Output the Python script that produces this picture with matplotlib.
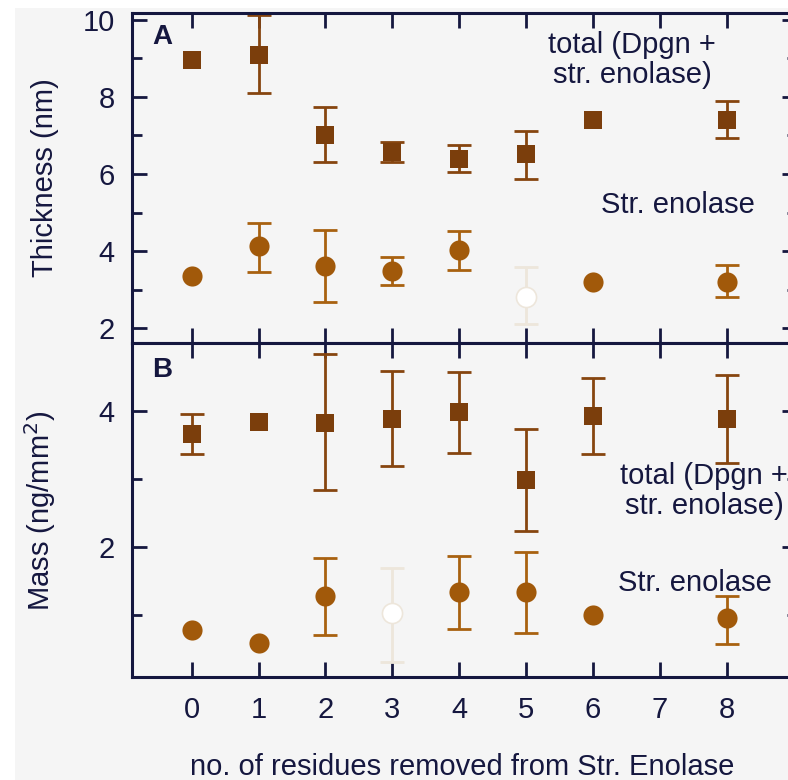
import numpy as np
import matplotlib
matplotlib.use("Agg")
import matplotlib.pyplot as plt
from matplotlib.ticker import MultipleLocator

plt.rcParams['font.family'] = ['Liberation Sans', 'DejaVu Sans']

# residues removed
residues = [0, 1, 2, 3, 4, 5, 6, 8]
x_ticks = [0, 1, 2, 3, 4, 5, 6, 7, 8]

# A: thickness (nm)
thick_total = [8.96, 9.08, 7.02, 6.56, 6.38, 6.51, 7.41, 7.41]
thick_total_hi = [None, 10.12, 7.74, 6.84, 6.74, 7.10, None, 7.90]
thick_total_lo = [None, 8.10, 6.30, 6.30, 6.04, 5.87, None, 6.92]
thick_enol = [3.36, 4.13, 3.62, 3.49, 4.03, 2.82, 3.21, 3.21]
thick_enol_hi = [None, 4.73, 4.55, 3.86, 4.52, 3.59, None, 3.63]
thick_enol_lo = [None, 3.47, 2.69, 3.13, 3.50, 2.10, None, 2.82]
thick_enol_open = [5]

# B: mass (ng/mm2)
mass_total = [3.66, 3.84, 3.82, 3.88, 3.99, 2.99, 3.93, 3.88]
mass_total_hi = [3.96, None, 4.84, 4.59, 4.57, 3.74, 4.49, 4.53]
mass_total_lo = [3.37, None, 2.84, 3.19, 3.38, 2.24, 3.37, 3.24]
mass_enol = [0.78, 0.59, 1.28, 1.03, 1.34, 1.34, 1.00, 0.95]
mass_enol_hi = [None, None, 1.84, 1.69, 1.87, 1.93, None, 1.28]
mass_enol_lo = [None, None, 0.71, 0.31, 0.79, 0.73, None, 0.57]
mass_enol_open = [3]

navy = '#15173f'
sq_col = '#7b3e0c'
sq_err = '#86450f'
ci_col = '#a1590a'
ci_err = '#a86110'
pale = '#ede6db'
bg = '#f5f5f5'
fs = 21

fig = plt.figure(figsize=(7.88, 7.80), dpi=100)
fig.patches.append(plt.Rectangle((15 / 788, 0), 1, 1 - 8 / 780, transform=fig.transFigure,
                                 facecolor=bg, edgecolor='none', zorder=-10))

ax1 = fig.add_axes([131.5 / 788, (780 - 343) / 780, 665.5 / 788, 330 / 780])
ax2 = fig.add_axes([131.5 / 788, (780 - 677) / 780, 665.5 / 788, 334 / 780])


def series(ax, y, hi, lo, marker, ms, col, ecol, open_idx=()):
    for i, xv in enumerate(residues):
        hollow = i in open_idx
        if hi[i] is not None:
            ax.errorbar([xv], [y[i]], yerr=[[y[i] - lo[i]], [hi[i] - y[i]]], fmt='none',
                        ecolor=pale if hollow else ecol, elinewidth=2.0, capsize=8.5,
                        capthick=2.0, zorder=2)
        if hollow:
            ax.plot(xv, y[i], marker=marker, ms=ms, mfc='white', mec=pale, mew=1.2, zorder=3)
        else:
            ax.plot(xv, y[i], marker=marker, ms=ms, mfc=col, mec=col, mew=0, zorder=3)


series(ax1, thick_total, thick_total_hi, thick_total_lo, 's', 13.5, sq_col, sq_err)
series(ax1, thick_enol, thick_enol_hi, thick_enol_lo, 'o', 14.5, ci_col, ci_err, thick_enol_open)
series(ax2, mass_total, mass_total_hi, mass_total_lo, 's', 13.5, sq_col, sq_err)
series(ax2, mass_enol, mass_enol_hi, mass_enol_lo, 'o', 14.5, ci_col, ci_err, mass_enol_open)

ax1.set_ylim(1.62, 10.17)
ax2.set_ylim(0.09, 5.0)
ax1.yaxis.set_major_locator(MultipleLocator(2))
ax1.yaxis.set_minor_locator(MultipleLocator(1))
ax2.yaxis.set_major_locator(MultipleLocator(2))
ax2.yaxis.set_minor_locator(MultipleLocator(1))

for ax in (ax1, ax2):
    ax.set_facecolor(bg)
    ax.set_xlim(-0.9, 9.05)
    ax.set_xticks(x_ticks)
    for s in ax.spines.values():
        s.set_linewidth(2.2)
        s.set_color(navy)
    ax.tick_params(axis='both', which='major', direction='in', length=10.5, width=2.0,
                   color=navy, labelcolor=navy, labelsize=fs, top=True, right=True)
    ax.tick_params(axis='y', which='minor', direction='in', length=7, width=2.0,
                   color=navy, right=True)
    ax.tick_params(axis='y', which='major', pad=12)
    ax.tick_params(axis='x', which='major', pad=14)

ax1.tick_params(axis='x', labelbottom=False)
ax2.set_xticklabels([str(v) for v in x_ticks])


def px(xp, yp):
    return xp / 788, 1 - yp / 780


# panel letters and series names
fig.text(*px(162, 37), 'A', fontsize=20, fontweight='bold', color=navy,
         ha='center', va='center')
fig.text(*px(162, 370), 'B', fontsize=20, fontweight='bold', color=navy,
         ha='center', va='center')

fig.text(*px(632, 60), 'total (Dpgn +\nstr. enolase)', fontsize=fs, color=navy,
         ha='center', va='center', multialignment='center', linespacing=1.1)
fig.text(*px(678, 205), 'Str. enolase', fontsize=fs, color=navy, ha='center', va='center')
fig.text(*px(704, 491), 'total (Dpgn +\nstr. enolase)', fontsize=fs, color=navy,
         ha='center', va='center', multialignment='center', linespacing=1.1)
fig.text(*px(695, 583), 'Str. enolase', fontsize=fs, color=navy, ha='center', va='center')

fig.text(*px(45, 178), 'Thickness (nm)', fontsize=fs, color=navy, rotation=90,
         ha='center', va='center')
fig.text(*px(40, 511), 'Mass (ng/mm$^2$)', fontsize=fs, color=navy, rotation=90,
         ha='center', va='center')
fig.text(*px(462, 767), 'no. of residues removed from Str. Enolase', fontsize=fs,
         color=navy, ha='center', va='center')

fig.savefig('out.png', dpi=100)
